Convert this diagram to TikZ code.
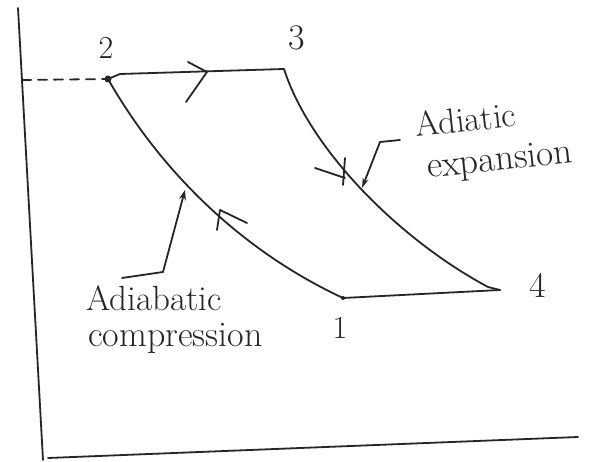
\documentclass[tikz,border=0pt]{standalone}
\usepackage{fontspec}
\usetikzlibrary{arrows.meta}
\begin{document}
\begin{tikzpicture}[x=1pt,y=-1pt,
  pen/.style={line width=1.8pt,line cap=round,line join=round,black!85},
  lbl/.style={font=\fontsize{32}{34}\selectfont,inner sep=0pt,text=black!85},
  txt/.style={font=\fontsize{35}{36}\selectfont,inner sep=0pt,text=black!85,anchor=base west}]
\fill[white] (0,0) rectangle (606,462);
\useasboundingbox (0,0) rectangle (606,462);
% axes
\coordinate (ytop) at (18,8);
\coordinate (orig) at (43,460);
\coordinate (xorig) at (48,458);
\coordinate (xend) at (578,437);
\draw[pen] (ytop) -- (orig);
\draw[pen] (xorig) -- (xend);
% state points
\coordinate (p2) at (108,79);
\coordinate (p3) at (284,69);
\coordinate (p4) at (500,290);
\coordinate (p1) at (343,298);
\coordinate (dstart) at (22,80);
\draw[pen,dash pattern=on 9pt off 7pt] (dstart) -- (p2);
\draw[pen] (p2) -- (120,74) -- (p3);
\draw[pen] (p2) .. controls (160,170) and (240,250) .. (p1);
\draw[pen] (p3) .. controls (310,150) and (400,240) .. (488,287) -- (p4);
\draw[pen] (p4) -- (p1);
\fill[black!85] (p2) circle (3.5pt);
\fill[black!85] (p1) circle (2pt);
% direction chevrons
\coordinate (c23) at (207,72);
\draw[pen] (188,62) -- (c23) -- (186,102);
\coordinate (c21) at (220,210);
\draw[pen] (217,230) -- (c21) -- (247,223);
\coordinate (c34) at (345,178);
\draw[pen] (315,168) -- (c34);
\draw[pen] (345,158) -- (343,185);
% labels of states
\node[lbl] (l2) at (106,48) {2};
\node[lbl,font=\fontsize{36}{38}\selectfont] (l3) at (297,38) {3};
\node[lbl,font=\fontsize{36}{38}\selectfont] (l4) at (538,285) {4};
\node[lbl] (l1) at (340,328) {1};
% expansion label
\node[txt,rotate=6] (exp1) at (416,137) {Adiatic};
\node[txt,rotate=6,font=\fontsize{37}{38}\selectfont] (exp2) at (428,178) {expansion};
\coordinate (e1) at (400,140);
\coordinate (e2) at (380,142);
\coordinate (e3) at (362,188);
\draw[pen,-{Stealth[length=10pt,width=6pt]}] (e1) -- (e2) -- (e3);
% compression label
\node[txt] (comp1) at (86,311) {Adiabatic};
\node[txt,font=\fontsize{36}{38}\selectfont] (comp2) at (88,347) {compression};
\coordinate (f1) at (122,278);
\coordinate (f2) at (163,272);
\coordinate (f3) at (185,190);
\draw[pen,-{Stealth[length=10pt,width=7pt]}] (f1) -- (f2) -- (f3);
\end{tikzpicture}
\end{document}
